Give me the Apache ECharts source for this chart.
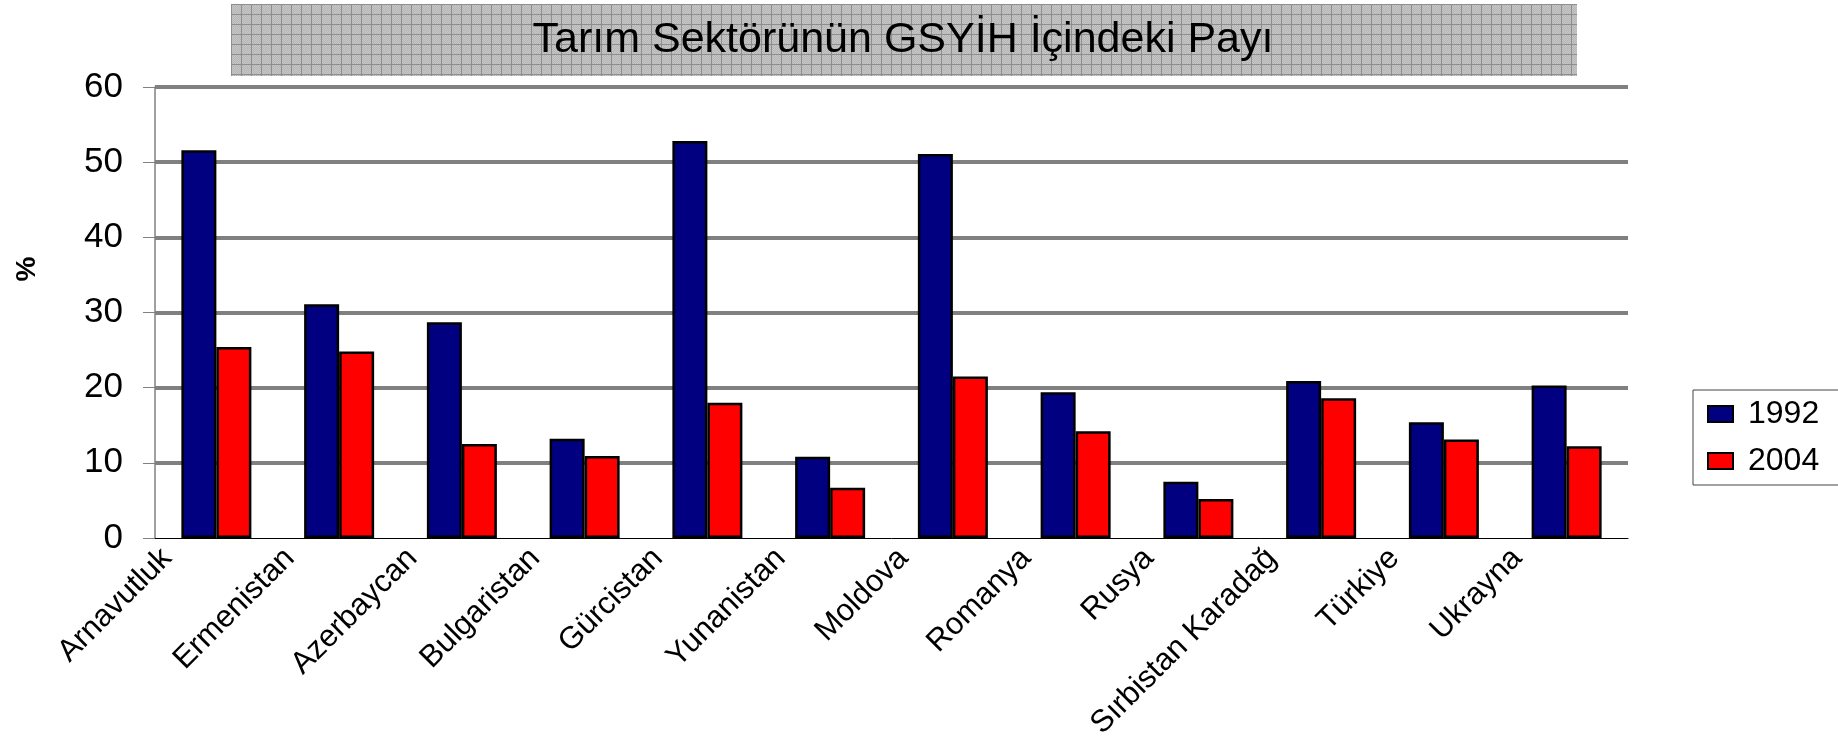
<!DOCTYPE html>
<html>
<head>
<meta charset="utf-8">
<script src="https://cdn.jsdelivr.net/npm/echarts@6/dist/echarts.min.js"></script>
<style>
  html, body { margin: 0; padding: 0; background: #fff; }
  #chart { width: 1838px; height: 742px; }
</style>
</head>
<body>
<div id="chart"></div>
<script>
const countries = ['Arnavutluk', 'Ermenistan', 'Azerbaycan', 'Bulgaristan', 'Gürcistan', 'Yunanistan',
  'Moldova', 'Romanya', 'Rusya', 'Sırbistan Karadağ', 'Türkiye', 'Ukrayna'];
const share1992 = [51.6, 31.1, 28.7, 13.2, 52.8, 10.8, 51.1, 19.4, 7.5, 20.9, 15.4, 20.3];
const share2004 = [25.4, 24.8, 12.5, 10.9, 18.0, 6.7, 21.5, 14.2, 5.2, 18.6, 13.1, 12.2];
const seriesNames = ['1992', '2004'];
const yMin = 0, yMax = 60, yStep = 10;

const font = '"Liberation Sans", Arial, sans-serif';

// small grey grid texture for the title box
function titlePattern() {
  const c = document.createElement('canvas');
  c.width = 10; c.height = 10;
  const ctx = c.getContext('2d');
  ctx.fillStyle = '#c6c6c6';
  ctx.fillRect(0, 0, 10, 10);
  ctx.fillStyle = '#b6b6b6';
  for (let y = 1; y < 10; y++) {
    for (let x = 1; x < 10; x++) {
      if ((x + y) % 2 === 0) ctx.fillRect(x, y, 1, 1);
    }
  }
  ctx.fillStyle = '#8e8e8e';
  ctx.fillRect(0, 0, 10, 1);
  ctx.fillRect(0, 0, 1, 10);
  return c;
}

const chart = echarts.init(document.getElementById('chart'));

// gridline at 0 is hidden, the axis line sits there
const gridColors = [];
for (let v = yMin; v <= yMax; v += yStep) gridColors.push(v === yMin ? 'rgba(0,0,0,0)' : '#808080');

const option = {
  animation: false,
  backgroundColor: '#fff',
  textStyle: { fontFamily: font },
  graphic: [
    {
      type: 'rect', left: 231, top: 4, z: 0,
      shape: { width: 1346, height: 72 },
      style: { fill: { image: titlePattern(), repeat: 'repeat' } }
    },
    {
      type: 'text', x: 903, y: 40, z: 1,
      style: { text: 'Tarım Sektörünün GSYİH İçindeki Payı', font: '43px ' + font, fill: '#000', align: 'center', verticalAlign: 'middle' }
    },
    {
      type: 'text', x: 27, y: 269, rotation: Math.PI / 2,
      style: { text: '%', font: 'bold 28px ' + font, fill: '#000', align: 'center', verticalAlign: 'middle' }
    }
  ],
  legend: {
    orient: 'vertical',
    left: 1693,
    top: 390,
    padding: [8, 40, 8, 14],
    itemWidth: 25,
    itemHeight: 16,
    itemGap: 15,
    icon: 'rect',
    borderColor: '#444',
    borderWidth: 1,
    backgroundColor: '#fff',
    textStyle: { fontSize: 32, color: '#000', fontFamily: font, padding: [0, 0, 0, 10] },
    data: seriesNames
  },
  grid: [
    { left: 155, right: 210, top: 87, bottom: 204 },
    // label-only grid, nudged right so names sit near the ticks like the original
    { left: 167, right: 198, top: 87, bottom: 204 }
  ],
  xAxis: [
    {
      type: 'category', gridIndex: 0, data: countries,
      axisLine: { lineStyle: { color: '#000', width: 1 } },
      axisTick: { length: 9, lineStyle: { color: '#808080' } },
      axisLabel: { show: false }
    },
    {
      type: 'category', gridIndex: 1, data: countries.concat(['']), boundaryGap: false,
      axisLine: { show: false },
      axisTick: { show: false },
      splitLine: { show: false },
      axisLabel: { interval: 0, rotate: 45, fontSize: 31, margin: 16, color: '#000', fontFamily: font }
    }
  ],
  yAxis: [
    {
      type: 'value', gridIndex: 0, min: yMin, max: yMax, interval: yStep,
      axisLine: { show: true, lineStyle: { color: '#808080', width: 1.5 } },
      axisTick: { show: true, length: 12, lineStyle: { color: '#808080' } },
      axisLabel: { fontSize: 35, margin: 32, color: '#000', fontFamily: font },
      splitLine: { show: true, lineStyle: { color: gridColors, width: 4 } }
    },
    { type: 'value', gridIndex: 1, min: 0, max: 1, show: false, splitLine: { show: false } }
  ],
  series: [
    {
      name: seriesNames[0], type: 'bar', xAxisIndex: 0, yAxisIndex: 0,
      data: share1992, barWidth: 35, barGap: '0%',
      itemStyle: { color: '#000080', borderColor: '#000', borderWidth: 2.5 }
    },
    {
      name: seriesNames[1], type: 'bar', xAxisIndex: 0, yAxisIndex: 0,
      data: share2004, barWidth: 35, barGap: '0%',
      itemStyle: { color: '#ff0000', borderColor: '#000', borderWidth: 2.5 }
    }
  ]
};

chart.setOption(option);
</script>
</body>
</html>
